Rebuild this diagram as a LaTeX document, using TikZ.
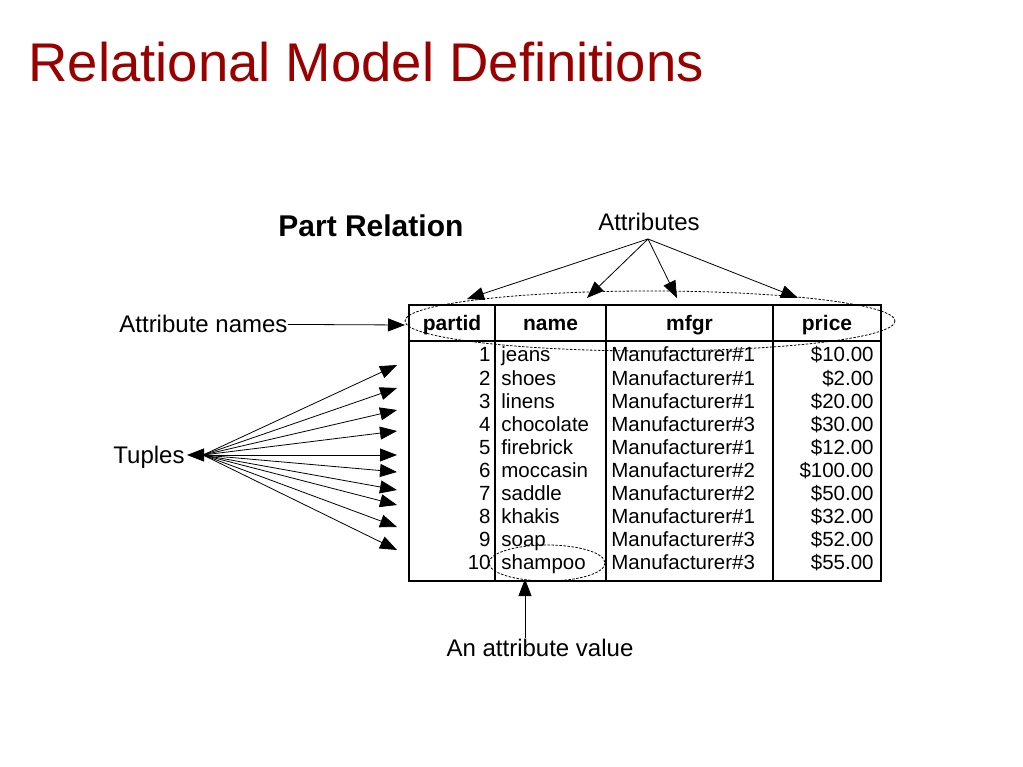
\documentclass[tikz,border=0pt]{standalone}
\usepackage{fontspec}
\setmainfont{Liberation Sans}
\usetikzlibrary{calc}
\usetikzlibrary{arrows.meta}
\definecolor{titlered}{RGB}{153,0,0}

\begin{document}
\begin{tikzpicture}[
        x=1pt, y=-1pt,
        every node/.style={inner sep=0pt, font=\fontsize{24}{28}\selectfont},
        cell/.style={font=\fontsize{20.5}{24}\selectfont},
        head/.style={font=\bfseries\fontsize{21}{24}\selectfont},
        dots/.style={dash pattern=on 2.5pt off 1.5pt, line width=0.8pt},
        grid/.style={line width=1.2pt},
        line width=0.8pt,
        >={Triangle[length=17pt,width=13pt]}
    ]
        \useasboundingbox (0,0) rectangle (1023,767);
        \node[anchor=base west, text=titlered, font=\fontsize{54.5}{60}\selectfont] (title) at (28,82) {Relational Model Definitions};
        \node[anchor=base west, font=\bfseries\fontsize{30}{34}\selectfont] (relname) at (278,237) {Part Relation};

        % the table
        \draw[grid] (409,305) rectangle (881,581);
        \draw[grid] (409,341) -- (881,341);
        \foreach \cx in {495,606,773}
            \draw[grid] (\cx,305) -- (\cx,581);
        \foreach \cx/\hd [count=\c] in {452/partid, 550.5/name, 689.5/mfgr, 827/price}
            \node[head, anchor=base] (hd\c) at (\cx,330.5) {\hd};
        \foreach \id/\nm/\mf/\pr in {1/jeans/1/10.00, 2/shoes/1/2.00, 3/linens/1/20.00, 4/chocolate/3/30.00, 5/firebrick/1/12.00, 6/moccasin/2/100.00, 7/saddle/2/50.00, 8/khakis/1/32.00, 9/soap/3/52.00, 10/shampoo/3/55.00} {
            \pgfmathsetmacro\yb{362+23.1*(\id-1)}
            \node[cell, anchor=base east] (id\id) at (491,\yb) {\id};
            \node[cell, anchor=base west] (nm\id) at (501,\yb) {\nm};
            \node[cell, anchor=base west] (mf\id) at (611,\yb) {Manufacturer\#\mf};
            \node[cell, anchor=base east] (pr\id) at (874,\yb) {\$\pr};
        }

        % attributes
        \draw[dots] (650,321) ellipse [x radius=245, y radius=30];
        \node[anchor=base] (attrs) at (649,231) {Attributes};
        \coordinate (attrfoot) at (648,239);
        \foreach \tx/\ty [count=\a] in {467/299, 587/298, 677/298, 798/298} {
            \coordinate (atip\a) at (\tx,\ty);
            \draw[->] (attrfoot) -- (atip\a);
        }

        % attribute names
        \node[anchor=base west] (attrnames) at (119,333) {Attribute names};
        \coordinate (namestip) at (405,325);
        \draw[->] (attrnames.east) -- (namestip);

        % tuples
        \node[anchor=base west] (tuples) at (113,463) {Tuples};
        \coordinate (tupfoot) at (187,455);
        \coordinate (tupfan) at (203,455);
        \foreach \ty [count=\t] in {365,388,410,431,455,472,490,505,527,550} {
            \coordinate (ttip\t) at (397,\ty);
            \ifnum\t=5
                \draw[<->] (tupfoot) -- (ttip\t);
            \else
                \draw[->] (tupfan) -- (ttip\t);
            \fi
        }

        % attribute value
        \draw[dots] (547,563) ellipse [x radius=58, y radius=18];
        \node[anchor=base] (attrval) at (540,656) {An attribute value};
        \coordinate (valtip) at (525,579);
        \draw[->] (attrval.north -| valtip) -- (valtip);
    \end{tikzpicture}
\end{document}
